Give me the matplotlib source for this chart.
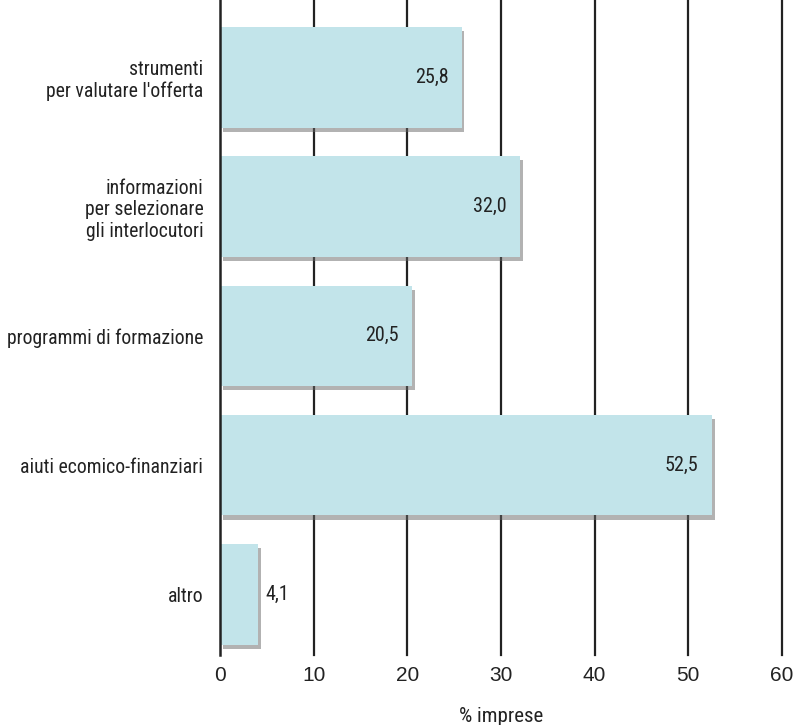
import matplotlib
matplotlib.use("Agg")
import matplotlib.pyplot as plt
import matplotlib.patheffects as pe

categories = [
    "strumenti\nper valutare l'offerta",
    "informazioni\nper selezionare\ngli interlocutori",
    "programmi di formazione",
    "aiuti ecomico-finanziari",
    "altro",
]
values = [25.8, 32.0, 20.5, 52.5, 4.1]
value_labels = ["25,8", "32,0", "20,5", "52,5", "4,1"]
xticks = [0, 10, 20, 30, 40, 50, 60]
xlabel = "% imprese"

narrow = ["Roboto Condensed", "DejaVu Sans"]
regular = ["Liberation Sans", "DejaVu Sans"]

fig = plt.figure(figsize=(8.03, 7.25), dpi=100)
ax = fig.add_axes([220 / 803, 1 - 655 / 725, 562 / 803, 655 / 725])

bar_color = "#c2e4ea"
pos = list(range(len(categories)))
bars = ax.barh(pos, values, height=0.78, color=bar_color, zorder=3)
for b in bars:
    b.set_path_effects([
        pe.SimplePatchShadow(offset=(2, -3), shadow_rgbFace="#666666", alpha=0.5),
        pe.Normal(),
    ])

ax.set_xlim(0, 60)
ax.set_ylim(4.47, -0.6)

# vertical reference lines
for x in xticks[1:]:
    ax.axvline(x, color="#222222", lw=1.6, zorder=1, clip_on=False)

for s in ["top", "right", "bottom"]:
    ax.spines[s].set_visible(False)
ax.spines["left"].set_color("#222222")
ax.spines["left"].set_linewidth(1.8)
ax.spines["left"].set_zorder(5)

ax.set_xticks(xticks)
ax.set_xticklabels([str(t) for t in xticks], fontsize=15, family=regular, color="#222222")
ax.tick_params(axis="x", length=0, pad=8)
ax.set_yticks(pos)
ax.set_yticklabels(categories, fontsize=14.2, family=narrow, color="#222222",
                   linespacing=1.15)
ax.tick_params(axis="y", length=0, pad=12)

for p, v, lab in zip(pos, values, value_labels):
    if v > 10:
        ax.text(v - 1.4, p, lab, ha="right", va="center", fontsize=14.5,
                family=narrow, color="#222222", zorder=6)
    else:
        ax.text(v + 0.7, p, lab, ha="left", va="center", fontsize=14.5,
                family=narrow, color="#222222", zorder=6)

fig.text(501 / 803, 1 - 717 / 725, xlabel, ha="center", va="center",
         fontsize=15, family=narrow, color="#222222")

fig.savefig("out.png", dpi=100)
